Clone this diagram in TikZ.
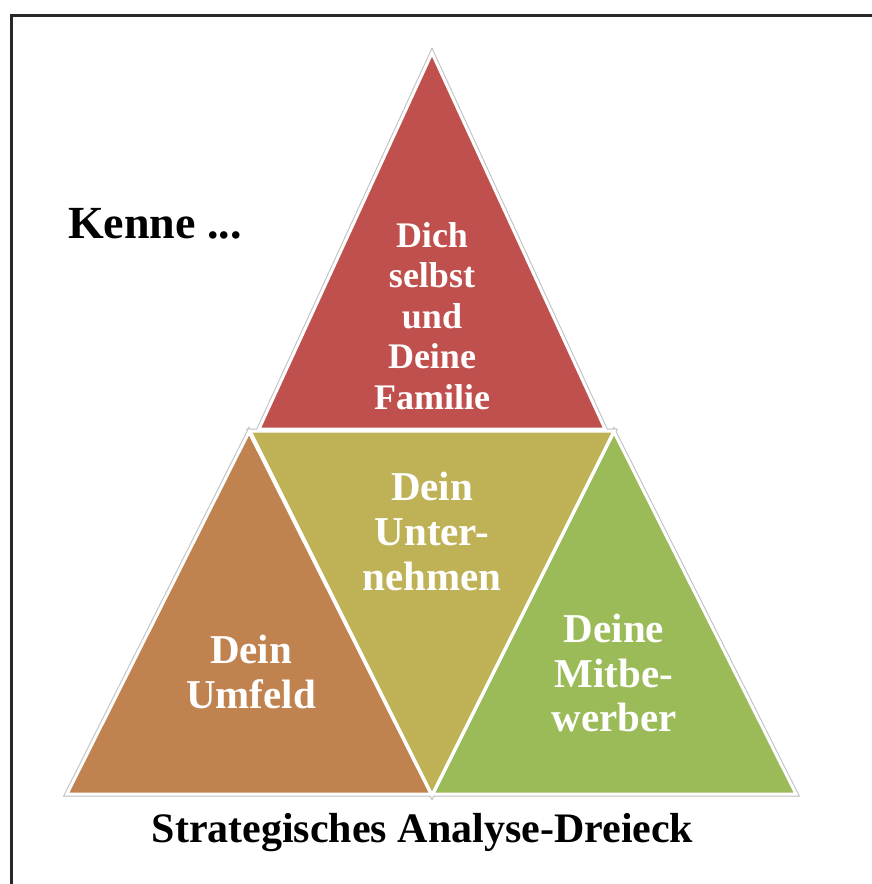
\documentclass[tikz,border=0pt]{standalone}
\usepackage{fontspec}
\setmainfont{Liberation Serif}
\definecolor{cred}{RGB}{192,80,77}
\definecolor{colive}{RGB}{191,178,86}
\definecolor{cgreen}{RGB}{155,187,89}
\definecolor{cbrown}{RGB}{192,131,80}
\definecolor{cframe}{RGB}{40,40,40}
\begin{document}
\begin{tikzpicture}[x=1pt,y=-1pt,
  halo/.style={draw=black!25,line width=5pt,line join=miter},
  tri/.style={draw=white,line width=3pt,line join=miter},
  lbl/.style={inner sep=0pt,anchor=base,text=white,font=\bfseries},
  s36/.style={font=\bfseries\fontsize{36}{40}\selectfont},
  s41/.style={font=\bfseries\fontsize{41}{45}\selectfont}]
\useasboundingbox (0,0) rectangle (872,884);
\fill[white] (0,0) rectangle (872,884);
% frame
\draw[cframe,line width=3pt] (11,884) -- (11,15.5) -- (873,15.5);
% triangles
\path[halo] (432,53) -- (259,429) -- (605,429) -- cycle;
\path[halo] (249,432) -- (67,794) -- (431,794) -- cycle;
\path[halo] (614,432) -- (433,794) -- (796,794) -- cycle;
\path[halo] (250,431) -- (614,431) -- (432,795) -- cycle;
\path[tri,fill=cred] (432,53) -- (259,429) -- (605,429) -- cycle;
\path[tri,fill=cbrown] (249,432) -- (67,794) -- (431,794) -- cycle;
\path[tri,fill=cgreen] (614,432) -- (433,794) -- (796,794) -- cycle;
\path[tri,fill=colive] (250,431) -- (614,431) -- (432,795) -- cycle;
% top labels
\node[lbl,s36] (t1) at (432,247) {Dich};
\node[lbl,s36] (t2) at (432,287.5) {selbst};
\node[lbl,s36] (t3) at (432,328) {und};
\node[lbl,s36] (t4) at (432,368.5) {Deine};
\node[lbl,s36] (t5) at (432,409) {Familie};
% middle
\node[lbl,s41] (m1) at (432,500) {Dein};
\node[lbl,s41] (m2) at (432,545) {Unter-};
\node[lbl,s41] (m3) at (432,590) {nehmen};
% left
\node[lbl,s41] (l1) at (251,663) {Dein};
\node[lbl,s41] (l2) at (251,708) {Umfeld};
% right
\node[lbl,s41] (r1) at (614,642) {Deine};
\node[lbl,s41] (r2) at (614,687) {Mitbe-};
\node[lbl,s41] (r3) at (614,731) {werber};
% outside texts
\node[inner sep=0pt,anchor=base west,font=\bfseries\fontsize{46}{50}\selectfont] (kenne) at (68,238) {Kenne ...};
\node[inner sep=0pt,anchor=base,font=\bfseries\fontsize{42}{46}\selectfont] (title) at (422.5,842) {Strategisches Analyse-Dreieck};
\end{tikzpicture}
\end{document}
